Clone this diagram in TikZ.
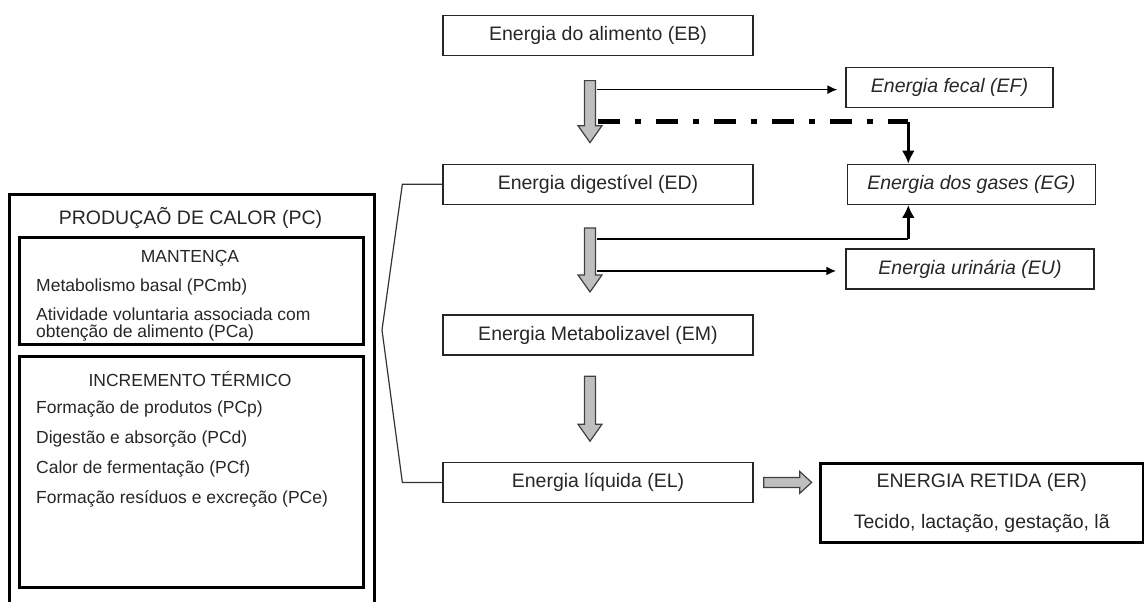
\documentclass[tikz,border=0pt]{standalone}
\usepackage{fontspec}
\setmainfont{Liberation Sans}
\usetikzlibrary{positioning,arrows.meta}
\newcommand{\fatdown}[2]{%
  \draw[fat] (#1) ++(-5.5,0) -- ++(11,0) -- ++(0,-#2) -- ++(6.5,0)
    -- ++(-12,-17) -- ++(-12,17) -- ++(6.5,0) -- cycle;}
\newcommand{\fatright}[2]{%
  \draw[fat] (#1) ++(0,5) -- ++(#2,0) -- ++(0,6) -- ++(12,-11)
    -- ++(-12,-11) -- ++(0,6) -- ++(-#2,0) -- cycle;}
\tikzset{
  font=\fontsize{19.5}{23}\selectfont
}

\begin{document}
\begin{tikzpicture}[x=1pt,y=1pt,text=black!85,
  item/.style={rectangle,draw=black!85,line width=1.3pt,minimum width=310pt,minimum height=40pt,inner sep=0pt},
  loss/.style={item,minimum width=207pt,font=\fontsize{19.5}{23}\selectfont\itshape},
  frame/.style={rectangle,draw=black,line width=3.2pt,inner sep=0pt},
  entry/.style={anchor=west,inner sep=0pt,font=\fontsize{17.5}{17.5}\selectfont},
  head/.style={inner sep=0pt,font=\fontsize{17.5}{20}\selectfont},
  fat/.style={draw=black!75,fill=black!25,line width=1.2pt},
  flow/.style={-{Latex[length=10pt,width=9pt]},line width=1.4pt},
  heavy/.style={-{Latex[length=13pt,width=13pt]},line width=2.6pt}]
\useasboundingbox (0,0) rectangle (1144,-602);

% energy chain
\node[item] (eb) at (598,-35.5) {Energia do alimento (EB)};
\node[item] (ed) [below=107.5pt of eb] {Energia digestível (ED)};
\node[item] (em) [below=109.5pt of ed] {Energia Metabolizavel (EM)};
\node[item] (el) [below=106pt of em] {Energia líquida (EL)};

% losses
\node[loss,minimum width=248pt] (eg) [right=93pt of ed] {Energia dos gases (EG)};
\node[loss] (ef) at (949.5,-87.5) {Energia fecal (EF)};
\node[loss,minimum width=248pt] (eu) at (970,-269) {Energia urinária (EU)};

\node[frame,minimum width=323pt,minimum height=79pt,align=center,
      font=\fontsize{19.5}{41}\selectfont] (er) [right=65pt of el.north east,anchor=north west]
      {ENERGIA RETIDA (ER)\\Tecido, lactação, gestação, lã};

% gray arrows
\coordinate (g1) at ([xshift=-8pt,yshift=-24.5pt]eb.south);
\coordinate (g2) at ([xshift=-8pt,yshift=-23pt]ed.south);
\coordinate (g3) at ([xshift=-8pt,yshift=-20.5pt]em.south);
\coordinate (g4) at ([xshift=10pt]el.east);
\fatdown{g1}{45}
\fatdown{g2}{47}
\fatdown{g3}{48}
\fatright{g4}{36}

% losses arrows
\coordinate (s1) at ([shift={(7pt,-9pt)}]g1);
\coordinate (s2) at ([shift={(8pt,-41pt)}]g1);
\coordinate (s3) at ([shift={(7pt,-11pt)}]g2);
\coordinate (s4) at ([shift={(7pt,-43pt)}]g2);
\coordinate (gin) at ([xshift=-63pt]eg.north);
\coordinate (gout) at ([xshift=-63pt]eg.south);
\draw[flow,shorten >=8pt] (s1) -- (s1 -| ef.west);
\draw[line width=5pt,dash pattern=on 22pt off 15pt on 6pt off 15pt] (s2) -- (s2 -| gin);
\draw[heavy] (s2 -| gin) -- (gin);
\draw[line width=1.5pt] (s3) -- (s3 -| gout);
\draw[heavy] (s3 -| gout) -- (gout);
\draw[flow,line width=2pt,shorten >=9pt] (s4) -- (s4 -| eu.west);

% bracket to heat production
\coordinate (tip) at (382,-330);
\draw[line width=1.2pt,draw=black!80] (ed.west) -- ++(-40,0) -- (tip)
  -- ([xshift=-40pt]el.west) -- (el.west);

% heat production
\node[frame,minimum width=365pt,minimum height=450pt,anchor=north west] (pc) at (8,-193) {};
\node (pctitle) at (190.5,-218) {PRODUÇAÕ DE CALOR (PC)};
\node[frame,minimum width=344pt,minimum height=107pt,anchor=north west] (mant) at (18,-236) {};
\node[head] (manttitle) at (190,-258) {MANTENÇA};
\node[entry] (pcmb) at (36,-287) {Metabolismo basal (PCmb)};
\node[entry,align=left] (pca) at (36,-324.5) {Atividade voluntaria associada com\\obtenção de alimento (PCa)};
\node[frame,minimum width=344pt,minimum height=231pt,anchor=north west] (inc) at (18,-355) {};
\node[head] (inctitle) at (190,-379) {INCREMENTO TÉRMICO};
\node[entry] (pcp) at (36,-409) {Formação de produtos (PCp)};
\node[entry] (pcd) at (36,-439) {Digestão e absorção (PCd)};
\node[entry] (pcf) at (36,-469) {Calor de fermentação (PCf)};
\node[entry] (pce) at (36,-499) {Formação resíduos e excreção (PCe)};
\end{tikzpicture}
\end{document}
